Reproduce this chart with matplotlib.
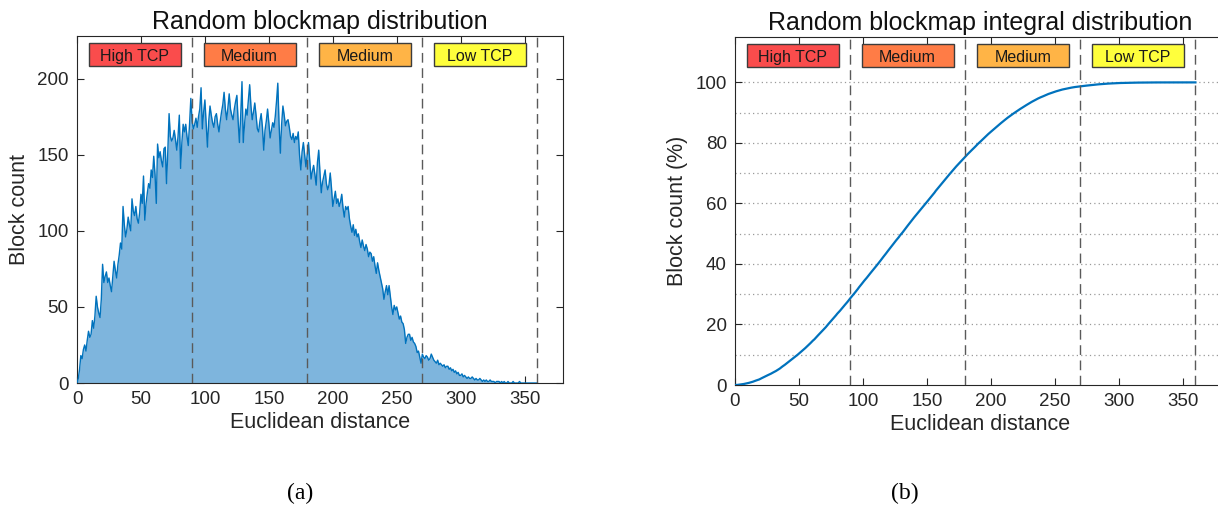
import numpy as np
import matplotlib
matplotlib.use("Agg")
import matplotlib.pyplot as plt
from matplotlib.patches import Rectangle
from matplotlib import transforms

# block count per unit of euclidean distance (0 .. 360)
block_count = [
    0, 3, 9, 18, 16, 22, 25, 21, 28, 34,
    30, 32, 41, 36, 44, 57, 50, 46, 43, 55,
    78, 66, 70, 73, 66, 69, 64, 60, 70, 80,
    74, 69, 78, 84, 92, 88, 116, 104, 96, 101,
    109, 104, 100, 121, 113, 110, 116, 108, 105, 112,
    124, 118, 136, 107, 118, 125, 131, 128, 140, 135,
    149, 137, 118, 157, 148, 152, 146, 142, 154, 155,
    131, 152, 177, 162, 159, 161, 166, 160, 153, 162,
    176, 141, 158, 170, 165, 170, 162, 156, 170, 187,
    172, 167, 170, 174, 168, 175, 180, 194, 167, 178,
    186, 170, 155, 172, 182, 176, 171, 168, 175, 177,
    170, 165, 172, 178, 183, 191, 180, 173, 181, 190,
    180, 176, 173, 180, 185, 189, 172, 158, 176, 198,
    158, 170, 180, 176, 186, 196, 182, 173, 178, 184,
    176, 167, 165, 172, 177, 168, 153, 166, 172, 180,
    171, 161, 166, 171, 168, 175, 185, 197, 170, 151,
    170, 182, 176, 169, 172, 173, 168, 162, 160, 164,
    158, 162, 160, 165, 150, 140, 152, 158, 150, 142,
    150, 158, 146, 134, 139, 143, 137, 130, 145, 153,
    138, 125, 132, 136, 140, 131, 127, 130, 138, 128,
    116, 121, 126, 118, 121, 116, 119, 124, 115, 109,
    116, 114, 116, 108, 103, 99, 104, 97, 101, 96,
    98, 93, 89, 94, 90, 87, 91, 88, 83, 86,
    85, 80, 83, 77, 72, 79, 74, 70, 66, 62,
    55, 60, 64, 58, 64, 57, 50, 45, 51, 48,
    50, 46, 42, 44, 40, 39, 35, 26, 30, 32,
    32, 28, 30, 27, 26, 24, 20, 21, 17, 13,
    19, 17, 16, 18, 17, 15, 16, 19, 17, 15,
    14, 13, 15, 12, 13, 12, 11, 12, 10, 11,
    11, 9, 10, 8, 9, 7, 8, 6, 7, 5,
    5, 6, 4, 5, 4, 3, 4, 3, 3, 4,
    3, 2, 3, 2, 2, 3, 2, 1, 2, 1,
    2, 1, 1, 2, 1, 1, 1, 0, 1, 1,
    1, 0, 1, 0, 1, 0, 0, 1, 0, 0,
    0, 1, 0, 0, 0, 0, 1, 0, 0, 0,
    0, 0, 0, 0, 0, 0, 0, 0, 0, 0, 0,
]
distance = np.arange(len(block_count))

zone_labels = ["High TCP", "Medium", "Medium", "Low TCP"]
zone_colors = ["#fa4c4c", "#ff7c46", "#ffb446", "#ffff3c"]
zone_edges = [90, 180, 270, 360]

x_ticks = [0, 50, 100, 150, 200, 250, 300, 350]

plt.rcParams['font.family'] = ['Liberation Sans', 'DejaVu Sans']
dark = '#262626'
blue = '#0072bd'


def add_zones(ax):
    # coloured labels at top of each zone + dashed borders
    trans = transforms.blended_transform_factory(ax.transData, ax.transAxes)
    for i, (lab, col) in enumerate(zip(zone_labels, zone_colors)):
        x0 = zone_edges[i] - 81
        ax.add_patch(Rectangle((x0, 0.913), 72, 0.067, transform=trans, facecolor=col,
                               edgecolor='#3c3c3c', lw=1.0, zorder=5))
        ax.text(x0 + 36, 0.946, lab, transform=trans, ha='center', va='center_baseline',
                fontsize=11.5, color='#1a1a1a', zorder=6)
    for e in zone_edges:
        ax.axvline(e, color='#5a5a5a', ls=(0, (7, 4)), lw=1.0, zorder=4)


def style_axes(ax):
    for s in ax.spines.values():
        s.set_color(dark)
        s.set_linewidth(0.8)
    ax.tick_params(direction='in', top=True, right=True, length=5, width=0.8,
                   colors=dark, labelsize=13.5, pad=6)
    ax.set_xticks(x_ticks)
    ax.set_xlim(0, 380)
    ax.set_xlabel("Euclidean distance", fontsize=15.5, color=dark, labelpad=3)


fig = plt.figure(figsize=(12.18, 5.17), dpi=100)

# (a) histogram
ax1 = fig.add_axes([77 / 1218, 134 / 517, 486 / 1218, 347 / 517])
ax1.fill_between(distance, block_count, color='#7eb5dd', lw=0, zorder=2)
ax1.plot(distance, block_count, color=blue, lw=1.0, zorder=3)
ax1.set_ylim(0, 228)
ax1.set_yticks([0, 50, 100, 150, 200])
style_axes(ax1)
add_zones(ax1)
ax1.set_ylabel("Block count", fontsize=15.5, color=dark, labelpad=5)
ax1.set_title("Random blockmap distribution", fontsize=18, color='#111111', pad=5)

# (b) cumulative share
percent = np.cumsum(block_count) / np.sum(block_count) * 100

ax2 = fig.add_axes([735 / 1218, 132 / 517, 490 / 1218, 348 / 517])
for g in range(10, 101, 10):
    ax2.axhline(g, color='#9a9a9a', ls=(0, (1, 2.5)), lw=0.9, zorder=1)
ax2.plot(distance, percent, color=blue, lw=1.6, zorder=3)
ax2.set_ylim(0, 115)
ax2.set_yticks([0, 20, 40, 60, 80, 100])
style_axes(ax2)
ax2.set_xlim(0, 380 * 490 / 486)
add_zones(ax2)
ax2.set_ylabel("Block count (%)", fontsize=15.5, color=dark, labelpad=5)
ax2.set_title("Random blockmap integral distribution", fontsize=18, color='#111111', pad=5)

fig.text(300 / 1218, 1 - 493 / 517, "(a)", ha='center', va='center',
         fontsize=17, family='Liberation Serif')
fig.text(905 / 1218, 1 - 493 / 517, "(b)", ha='center', va='center',
         fontsize=17, family='Liberation Serif')

fig.savefig("out.png", dpi=100)
